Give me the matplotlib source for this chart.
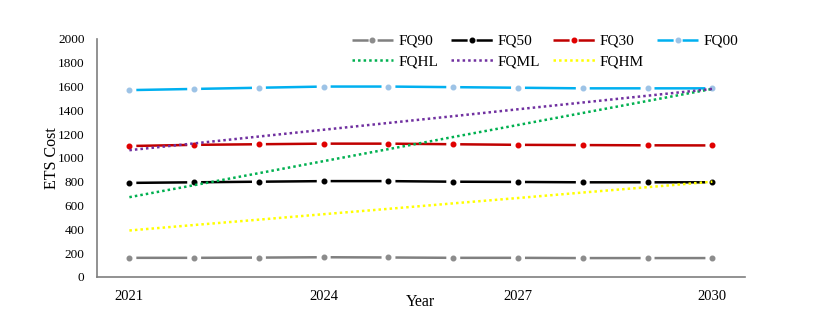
import numpy as np
import matplotlib.pyplot as plt
from matplotlib.lines import Line2D

plt.rcParams['font.family'] = ['Liberation Serif', 'DejaVu Serif']
plt.rcParams['lines.scale_dashes'] = False

years = [2021, 2022, 2023, 2024, 2025, 2026, 2027, 2028, 2029, 2030]
fq90 = [160, 160, 162, 165, 163, 160, 160, 158, 158, 158]
fq50 = [790, 795, 800, 805, 805, 800, 798, 795, 795, 795]
fq30 = [1100, 1110, 1115, 1120, 1120, 1115, 1110, 1108, 1106, 1105]
fq00 = [1570, 1580, 1590, 1600, 1600, 1595, 1590, 1585, 1585, 1585]
fqhl = [670, 771, 872, 973, 1074, 1176, 1277, 1378, 1479, 1580]
fqml = [1065, 1122, 1180, 1237, 1294, 1351, 1409, 1466, 1523, 1580]
fqhm = [390, 436, 481, 527, 572, 618, 663, 709, 754, 800]

fig = plt.figure(figsize=(8.22, 3.36), dpi=100)
ax = fig.add_axes([0.118, 0.176, 0.788, 0.708])

lw = 1.8
period = 0.788 * 8.22 * 72 / 10   # points per year on the x axis
off = 10.0
on = period - off
# tiny first dash so the pattern starts in the middle of a gap
dash = (0, (0.01, off / 2, on, off / 2 - 0.01))
leg_len = 2.7 * 11
leg_dash = (0, ((leg_len - 6.5) / 2, 6.5))

dashed = [(fq90, '#808080', '#8c8c8c', 'FQ90'),
          (fq50, '#000000', '#000000', 'FQ50'),
          (fq30, '#C00000', '#E00000', 'FQ30'),
          (fq00, '#00B0F0', '#9DC3E6', 'FQ00')]
handles = {}
for vals, c, mc, name in dashed:
    ax.plot(years, vals, color=c, lw=lw, linestyle=dash, dash_capstyle='butt')
    ax.plot(years, vals, linestyle='none', marker='o', ms=3.3, mfc=mc, mec=mc)
    handles[name] = Line2D([], [], color=c, lw=lw, linestyle=leg_dash,
                           dash_capstyle='butt',
                           marker='o', ms=3.3, mfc=mc, mec=mc)

dotted = [(fqhl, '#00B050', 'FQHL'),
          (fqml, '#7030A0', 'FQML'),
          (fqhm, '#FFFF00', 'FQHM')]
for vals, c, name in dotted:
    ln, = ax.plot(years, vals, color=c, lw=1.8, linestyle=(0, (1.8, 2.2)))
    handles[name] = ln

ax.set_xlim(2020.5, 2030.5)
ax.set_ylim(0, 2000)
ax.set_yticks(range(0, 2001, 200))
ax.set_xticks([2021, 2024, 2027, 2030])
ax.tick_params(length=0, colors='black')
ax.tick_params(axis='x', pad=9.7, labelsize=10.5)
ax.tick_params(axis='y', pad=9, labelsize=9.5)
for s in ['top', 'right']:
    ax.spines[s].set_visible(False)
for s in ['left', 'bottom']:
    ax.spines[s].set_color('#7f7f7f')
    ax.spines[s].set_linewidth(1.2)

ax.set_xlabel('Year', fontsize=11.5, labelpad=-6.5)
ax.set_ylabel('ETS Cost', fontsize=11.5, labelpad=-1.5)

order = ['FQ90', 'FQHL', 'FQ50', 'FQML', 'FQ30', 'FQHM', 'FQ00']
fig.legend([handles[k] for k in order], order, ncol=4, loc='upper left',
           bbox_to_anchor=(0.428, 0.898), frameon=False, numpoints=1,
           borderpad=0, borderaxespad=0,
           fontsize=11, handlelength=2.7, columnspacing=0.85, handletextpad=0.35,
           labelspacing=0.45)

fig.savefig('out.png', dpi=100)
